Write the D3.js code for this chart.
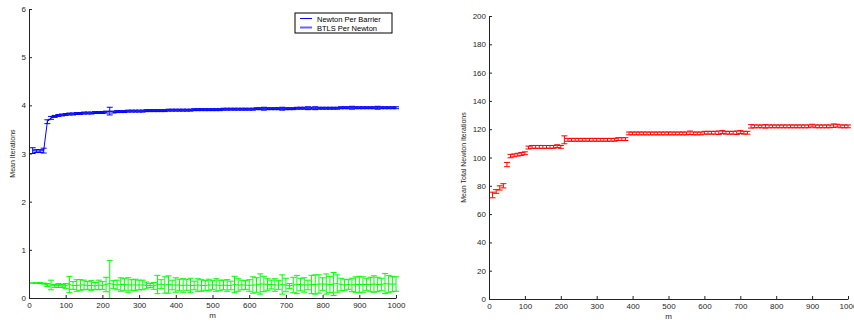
<!DOCTYPE html>
<html>
<head>
<meta charset="utf-8">
<script src="https://cdn.jsdelivr.net/npm/d3@7"></script>
<style>
  body { margin: 0; background: #fff; }
  svg { display: block; font-family: "Liberation Sans", Arial, sans-serif; }
  .axis text { font-size: 8px; fill: #262626; }
  .axis path, .axis line { stroke: #222; }
</style>
</head>
<body>
<svg id="chart" width="854" height="322"></svg>
<script>
// m values (x axis)
const mValues = [10,20,30,40,50,60,70,80,90,100,110,120,130,140,150,160,170,180,190,200,
  210,220,230,240,250,260,270,280,290,300,310,320,330,340,350,360,370,380,390,400,
  410,420,430,440,450,460,470,480,490,500,510,520,530,540,550,560,570,580,590,600,
  610,620,630,640,650,660,670,680,690,700,710,720,730,740,750,760,770,780,790,800,
  810,820,830,840,850,860,870,880,890,900,910,920,930,940,950,960,970,980,990,1000];

// Newton per barrier (blue)
const newtonMean = [3.06,3.05,3.05,3.06,3.66,3.74,3.77,3.79,3.80,3.81,
  3.82,3.82,3.83,3.83,3.84,3.84,3.84,3.85,3.85,3.85,
  3.86,3.88,3.86,3.87,3.87,3.87,3.88,3.88,3.88,3.88,
  3.88,3.89,3.89,3.89,3.89,3.89,3.89,3.90,3.90,3.90,
  3.90,3.90,3.90,3.90,3.91,3.91,3.91,3.91,3.91,3.91,
  3.91,3.91,3.92,3.92,3.92,3.92,3.92,3.92,3.92,3.92,
  3.92,3.93,3.93,3.93,3.93,3.93,3.93,3.93,3.93,3.93,
  3.93,3.93,3.94,3.94,3.94,3.94,3.94,3.94,3.94,3.94,
  3.94,3.94,3.94,3.94,3.95,3.95,3.95,3.95,3.95,3.95,
  3.95,3.95,3.95,3.95,3.95,3.95,3.95,3.95,3.95,3.95];
const newtonErr = [0.06,0.03,0.03,0.05,0.04,0.03,0.02,0.02,0.02,0.02,
  0.02,0.02,0.02,0.02,0.02,0.02,0.02,0.02,0.02,0.02,
  0.02,0.08,0.02,0.02,0.02,0.02,0.02,0.02,0.02,0.02,
  0.02,0.02,0.02,0.02,0.02,0.02,0.02,0.02,0.02,0.02,
  0.02,0.02,0.02,0.02,0.02,0.02,0.02,0.02,0.02,0.02,
  0.02,0.02,0.02,0.02,0.02,0.02,0.02,0.02,0.02,0.02,
  0.02,0.02,0.02,0.03,0.02,0.02,0.02,0.02,0.03,0.02,
  0.02,0.02,0.02,0.02,0.02,0.03,0.02,0.03,0.02,0.02,
  0.02,0.02,0.02,0.02,0.02,0.02,0.02,0.03,0.02,0.02,
  0.02,0.02,0.02,0.02,0.03,0.02,0.02,0.02,0.02,0.02];

// BTLS per Newton (green)
const btlsMean = [0.31,0.31,0.31,0.30,0.27,0.27,0.25,0.26,0.25,0.25,
  0.28,0.26,0.26,0.27,0.27,0.26,0.26,0.25,0.27,0.26,
  0.28,0.30,0.28,0.27,0.28,0.28,0.27,0.27,0.27,0.27,
  0.27,0.26,0.26,0.25,0.28,0.29,0.27,0.28,0.27,0.27,
  0.27,0.26,0.27,0.26,0.26,0.27,0.26,0.26,0.27,0.27,
  0.27,0.26,0.27,0.26,0.26,0.28,0.27,0.27,0.27,0.26,
  0.27,0.27,0.29,0.29,0.28,0.28,0.27,0.27,0.28,0.27,
  0.25,0.27,0.28,0.28,0.27,0.27,0.28,0.28,0.29,0.29,
  0.29,0.28,0.29,0.30,0.28,0.27,0.28,0.27,0.28,0.28,
  0.28,0.28,0.28,0.29,0.28,0.28,0.30,0.29,0.29,0.29];
const btlsErr = [0.00,0.00,0.01,0.01,0.03,0.10,0.03,0.04,0.03,0.05,
  0.17,0.08,0.12,0.11,0.10,0.08,0.10,0.07,0.10,0.08,
  0.15,0.48,0.08,0.10,0.14,0.12,0.15,0.11,0.12,0.10,
  0.10,0.07,0.04,0.07,0.19,0.09,0.17,0.18,0.10,0.15,
  0.12,0.14,0.11,0.15,0.09,0.13,0.12,0.10,0.12,0.09,
  0.13,0.11,0.10,0.12,0.09,0.17,0.13,0.10,0.09,0.12,
  0.17,0.15,0.21,0.16,0.12,0.09,0.13,0.09,0.20,0.14,
  0.05,0.16,0.19,0.13,0.15,0.10,0.19,0.20,0.19,0.13,
  0.21,0.17,0.24,0.18,0.13,0.12,0.10,0.14,0.16,0.17,
  0.16,0.12,0.15,0.17,0.15,0.13,0.21,0.18,0.16,0.15];

// Mean total Newton iterations (red)
const totalMean = [73.5,76,78.5,80,95,101,101.5,102,102.5,103,
  107,107.5,107.5,107.5,107.5,107.5,107.5,107.5,108,107.5,
  112.5,112.5,112.5,112.5,112.5,112.5,112.5,112.5,112.5,112.5,
  112.5,112.5,112.5,112.5,112.5,113,113,113,117,117,
  117,117,117,117,117,117,117,117,117,117,
  117,117,117,117,117,117.5,117,117,117,117.5,
  117.5,117.5,117.5,117.5,118,117.5,117.5,117.5,117.5,118,
  117.5,117.5,122,122,122,122,122,122,122,122,
  122,122,122,122,122,122,122,122,122,122.5,
  122,122,122,122,122,122.5,122.5,122,122,122];
const totalErr = [2,1.3,1.5,1.5,1.5,1.2,1,1,1,1,
  1,1,1,1,1,1,1,1,1,1,
  2.8,1,1,1,1,1,1,1,1,1,
  1,1,1,1,1,1,1,1,1,1,
  1,1,1,1,1,1,1,1,1,1,
  1,1,1,1,1,1.2,1,1,1,1,
  1,1,1,1.2,1,1,1,1,1.2,1,
  1,1,1.2,1,1,1,1.2,1,1,1,
  1,1,1,1,1,1,1,1,1,1,
  1,1,1,1,1,1.2,1,1,1,1];

const leftTicksY = [0,1,2,3,4,5,6];
const rightTicksY = [0,20,40,60,80,100,120,140,160,180,200];
const ticksX = [0,100,200,300,400,500,600,700,800,900,1000];
const legendLabels = ["Newton Per Barrier", "BTLS Per Newton"];

const svg = d3.select("#chart");
const CAP = 3; // half width of error-bar caps, px

function drawErrorBars(g, x, y, means, errs, color, withLine) {
    const pts = mValues.map((m, i) => ({ m: m, v: means[i], e: errs[i] }));

    if (withLine) {
        g.append("path")
            .datum(pts)
            .attr("fill", "none")
            .attr("stroke", color)
            .attr("stroke-width", 1)
            .attr("d", d3.line().x(d => x(d.m)).y(d => y(d.v)));
    }

    const bars = g.append("g")
        .attr("stroke", color)
        .attr("stroke-width", 1);

    // vertical bar
    bars.selectAll("line.vbar")
        .data(pts)
        .join("line")
        .attr("class", "vbar")
        .attr("x1", d => x(d.m))
        .attr("x2", d => x(d.m))
        .attr("y1", d => y(d.v - d.e))
        .attr("y2", d => y(d.v + d.e));

    // top cap
    bars.selectAll("line.ctop")
        .data(pts)
        .join("line")
        .attr("class", "ctop")
        .attr("x1", d => x(d.m) - CAP)
        .attr("x2", d => x(d.m) + CAP)
        .attr("y1", d => y(d.v + d.e))
        .attr("y2", d => y(d.v + d.e));

    // bottom cap (skipped when it falls below the axis)
    bars.selectAll("line.cbot")
        .data(pts.filter(d => d.v - d.e >= y.domain()[0]))
        .join("line")
        .attr("class", "cbot")
        .attr("x1", d => x(d.m) - CAP)
        .attr("x2", d => x(d.m) + CAP)
        .attr("y1", d => y(d.v - d.e))
        .attr("y2", d => y(d.v - d.e));
}

function drawAxes(x, y, yTicks, yLabel, labelX) {
    const [x0, x1] = x.range();
    const [y0, y1] = y.range();
    const fmt = d3.format("d");

    svg.append("g")
        .attr("class", "axis")
        .attr("transform", `translate(0,${y0})`)
        .call(d3.axisBottom(x).tickValues(ticksX).tickFormat(fmt)
            .tickSizeInner(-3).tickSizeOuter(0).tickPadding(4));

    svg.append("g")
        .attr("class", "axis")
        .attr("transform", `translate(${x0},0)`)
        .call(d3.axisLeft(y).tickValues(yTicks).tickFormat(fmt)
            .tickSizeInner(-3).tickSizeOuter(0).tickPadding(3));

    svg.append("text")
        .attr("x", (x0 + x1) / 2)
        .attr("y", y0 + 20)
        .attr("text-anchor", "middle")
        .attr("font-size", 8)
        .attr("fill", "#262626")
        .text("m");

    svg.append("text")
        .attr("transform", `translate(${labelX},${(y0 + y1) / 2}) rotate(-90)`)
        .attr("text-anchor", "middle")
        .attr("font-size", 7)
        .attr("fill", "#262626")
        .text(yLabel);
}

// left panel
const xL = d3.scaleLinear().domain([0, 1000]).range([29, 396]);
const yL = d3.scaleLinear().domain([0, 6]).range([298, 9]).clamp(true);

const gL = svg.append("g");
drawErrorBars(gL, xL, yL, newtonMean, newtonErr, "#0000ff", true);
drawErrorBars(gL, xL, yL, btlsMean, btlsErr, "#00ff00", true);
drawAxes(xL, yL, leftTicksY, "Mean Iterations", 15);

// legend
const leg = svg.append("g").attr("transform", "translate(295,13)");
leg.append("rect")
    .attr("width", 97)
    .attr("height", 20)
    .attr("fill", "#fff")
    .attr("stroke", "#000")
    .attr("stroke-width", 1);
legendLabels.forEach((lab, i) => {
    leg.append("line")
        .attr("x1", 5).attr("x2", 17)
        .attr("y1", 5.5 + i * 9).attr("y2", 5.5 + i * 9)
        .attr("stroke", "#0000ff")
        .attr("stroke-width", i === 0 ? 1 : 2)
        .attr("stroke-opacity", i === 0 ? 1 : 0.6);
    leg.append("text")
        .attr("x", 22)
        .attr("y", 8.5 + i * 9)
        .attr("font-size", 7.5)
        .attr("fill", "#000")
        .text(lab);
});

// right panel
const xR = d3.scaleLinear().domain([0, 1000]).range([489, 848]);
const yR = d3.scaleLinear().domain([0, 200]).range([299, 16]);

const gR = svg.append("g");
drawErrorBars(gR, xR, yR, totalMean, totalErr, "#ff0000", false);
drawAxes(xR, yR, rightTicksY, "Mean Total Newton Iterations", 466);
</script>
</body>
</html>
